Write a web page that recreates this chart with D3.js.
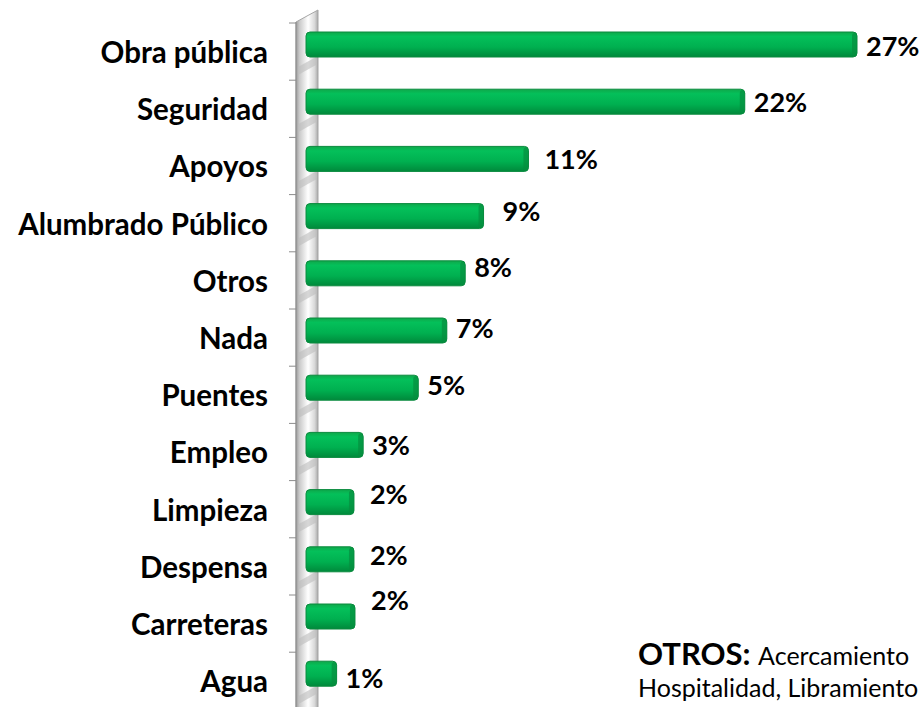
<!DOCTYPE html>
<html lang="es">
<head>
    <meta charset="UTF-8">
    <title>Obras</title>
    <style>
        body { margin: 0; background: #fff; }
        .cat { font-family: Lato, sans-serif; font-weight: 700; font-size: 29.5px; fill: #000; }
        .val { font-family: Lato, sans-serif; font-weight: 700; font-size: 27px; fill: #000; }
        .note { font-family: Lato, sans-serif; fill: #000; }
    </style>
</head>
<body>
    <script src="https://d3js.org/d3.v7.min.js"></script>
    <script>
        // data
        const categories = ['Obra pública', 'Seguridad', 'Apoyos', 'Alumbrado Público', 'Otros', 'Nada',
            'Puentes', 'Empleo', 'Limpieza', 'Despensa', 'Carreteras', 'Agua'];
        const values = [27.0, 21.5, 10.9, 8.7, 7.8, 6.9, 5.5, 2.8, 2.35, 2.35, 2.4, 1.5];
        const valueLabels = ['27%', '22%', '11%', '9%', '8%', '7%', '5%', '3%', '2%', '2%', '2%', '1%'];

        // hand placed label nudges (dx, dy) as in the original
        const labelNudge = [[0, 2], [0, 1], [7, 1], [10, -5], [0, -6], [0, -2], [0, -2], [0, 1], [7, -8], [7, -4], [7, -16], [0, 5]];

        const width = 924;
        const height = 707;

        const svg = d3.select('body').append('svg')
            .attr('width', width)
            .attr('height', height);

        const defs = svg.append('defs');
        const barGrad = defs.append('linearGradient')
            .attr('id', 'barGrad').attr('x1', 0).attr('y1', 0).attr('x2', 0).attr('y2', 1);
        barGrad.append('stop').attr('offset', '0%').attr('stop-color', '#0fa84a');
        barGrad.append('stop').attr('offset', '18%').attr('stop-color', '#04c05a');
        barGrad.append('stop').attr('offset', '60%').attr('stop-color', '#00b050');
        barGrad.append('stop').attr('offset', '100%').attr('stop-color', '#00893b');

        const wallGrad = defs.append('linearGradient')
            .attr('id', 'wallGrad').attr('x1', 0).attr('y1', 0).attr('x2', 1).attr('y2', 0);
        wallGrad.append('stop').attr('offset', '0%').attr('stop-color', '#9a9a9a');
        wallGrad.append('stop').attr('offset', '15%').attr('stop-color', '#c8c8c8');
        wallGrad.append('stop').attr('offset', '55%').attr('stop-color', '#ffffff');
        wallGrad.append('stop').attr('offset', '85%').attr('stop-color', '#d8d8d8');
        wallGrad.append('stop').attr('offset', '100%').attr('stop-color', '#a8a8a8');

        const y = d3.scaleBand()
            .domain(categories)
            .range([23, 23 + 57.2 * categories.length])
            .paddingInner(0);

        const x = d3.scaleLinear()
            .domain([0, 27])
            .range([306, 857]);

        // 3d side wall
        svg.append('path')
            .attr('d', 'M296,22 L318,10 L318,720 L296,720 Z')
            .attr('fill', 'url(#wallGrad)')
            .attr('stroke', '#a6a6a6')
            .attr('stroke-width', 1);

        // bar shadows on the wall
        svg.append('g').selectAll('path')
            .data(categories)
            .join('path')
            .attr('d', (d) => {
                const t = y(d) + 34;
                return `M298,${t + 10} L316,${t} L316,${t + 8} L298,${t + 18} Z`;
            })
            .attr('fill', '#bcbcbc')
            .attr('opacity', 0.6);

        // left axis with ticks at band edges
        const axis = svg.append('g');
        axis.append('line')
            .attr('x1', 296).attr('x2', 296)
            .attr('y1', 22).attr('y2', height)
            .attr('stroke', '#8c8c8c');
        axis.selectAll('.tick')
            .data(categories)
            .join('line')
            .attr('class', 'tick')
            .attr('x1', 289).attr('x2', 296)
            .attr('y1', (d) => y(d))
            .attr('y2', (d) => y(d))
            .attr('stroke', '#8c8c8c');

        // category labels
        svg.append('g').selectAll('text')
            .data(categories)
            .join('text')
            .attr('class', 'cat')
            .attr('x', 268)
            .attr('y', (d) => y(d) + y.bandwidth() / 2 + 1)
            .attr('dy', '0.35em')
            .attr('text-anchor', 'end')
            .text((d) => d);

        // bars
        const bars = svg.append('g').selectAll('g')
            .data(categories)
            .join('g');

        bars.append('rect')
            .attr('x', x(0))
            .attr('y', (d) => y(d) + 9)
            .attr('width', (d, i) => x(values[i]) - x(0))
            .attr('height', 25)
            .attr('rx', 4)
            .attr('fill', 'url(#barGrad)')
            .attr('stroke', '#0a8a3e')
            .attr('stroke-width', 1);

        // darker rounded end cap
        bars.append('rect')
            .attr('x', (d, i) => x(values[i]) - 5)
            .attr('y', (d) => y(d) + 10)
            .attr('width', 5)
            .attr('height', 23)
            .attr('rx', 3)
            .attr('fill', '#058d3f')
            .attr('opacity', 0.7);

        // value labels
        svg.append('g').selectAll('text')
            .data(categories)
            .join('text')
            .attr('class', 'val')
            .attr('x', (d, i) => x(values[i]) + 9 + labelNudge[i][0])
            .attr('y', (d, i) => y(d) + 21.5 + labelNudge[i][1])
            .attr('dy', '0.35em')
            .text((d, i) => valueLabels[i]);

        // note
        const note = svg.append('text')
            .attr('class', 'note')
            .attr('x', 638)
            .attr('y', 665);
        note.append('tspan').attr('font-weight', 700).attr('font-size', 31).text('OTROS: ');
        note.append('tspan').attr('font-size', 25).text('Acercamiento');
        svg.append('text')
            .attr('class', 'note')
            .attr('x', 638)
            .attr('y', 697)
            .attr('font-size', 25)
            .text('Hospitalidad, Libramiento');
    </script>
</body>
</html>
